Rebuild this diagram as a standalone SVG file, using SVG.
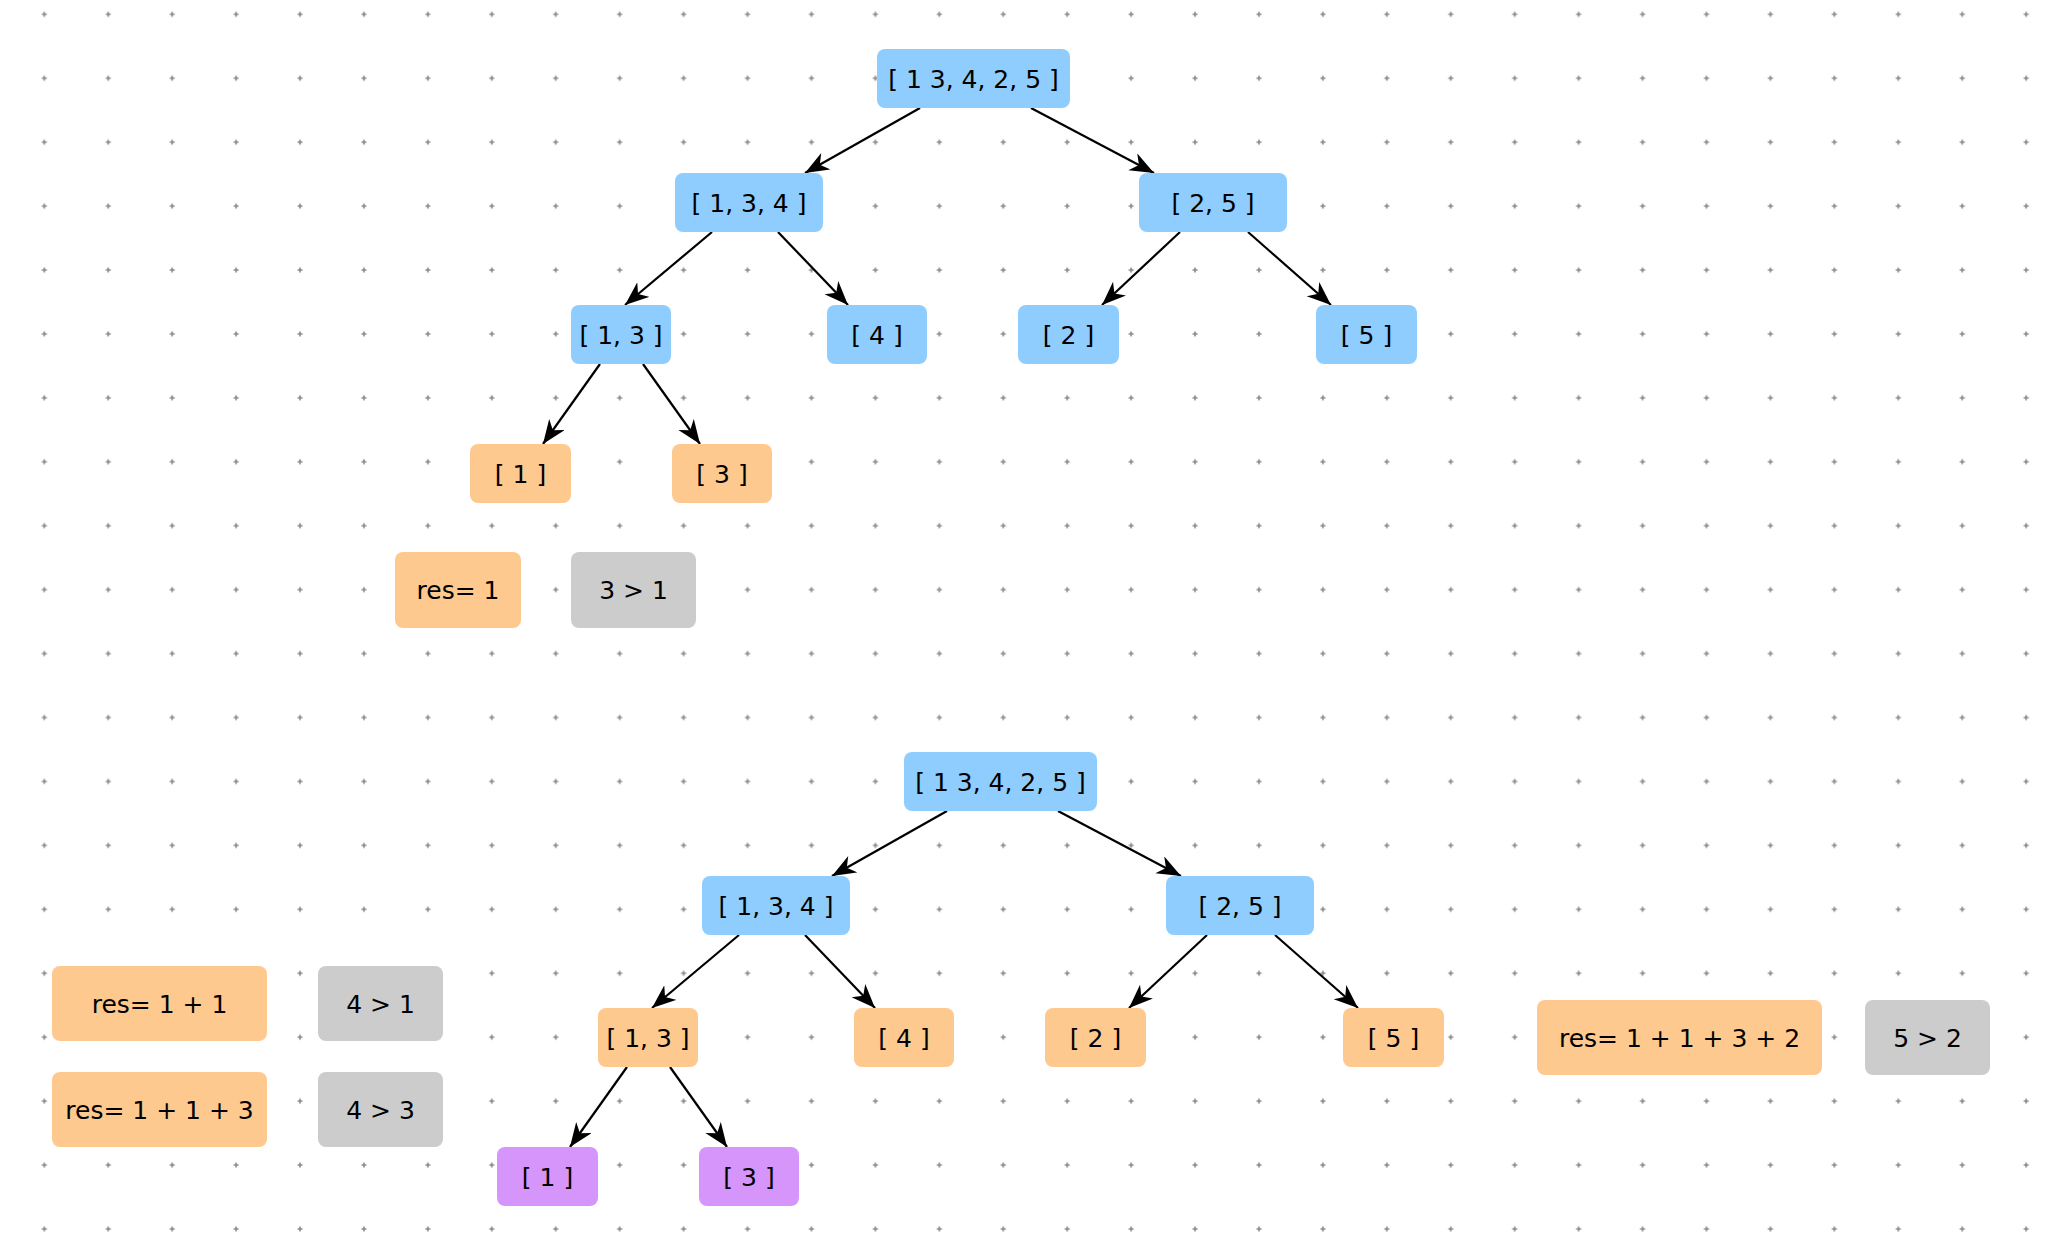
<svg xmlns="http://www.w3.org/2000/svg" width="2066" height="1242" viewBox="0 0 2066 1242">
<defs>
<pattern id="grid" patternUnits="userSpaceOnUse" x="12.335" y="-17.665" width="63.93" height="63.93">
<path d="M29.5,31.965 H34.5 M31.965,29.5 V34.5" stroke="#8a8a8a" stroke-width="1.6" fill="none"/>
</pattern>
<marker id="arr" markerUnits="userSpaceOnUse" markerWidth="26" markerHeight="20" refX="24" refY="9.5" orient="auto" viewBox="0 0 26 20">
<path d="M0,0 L24,9.5 L0,19 L7,9.5 Z" fill="#000"/>
</marker>
<style>
.n rect{rx:8px;ry:8px}
.blue rect{fill:#8ecdfd}
.orange rect{fill:#fdc98f}
.gray rect{fill:#cccccc}
.purple rect{fill:#d595fb}
.n text{font-family:"DejaVu Sans","Liberation Sans",sans-serif;font-size:25px;fill:#000;text-anchor:middle}
.e line{stroke:#000;stroke-width:2.2;marker-end:url(#arr)}
</style>
</defs>
<rect width="2066" height="1242" fill="#fff"/>
<rect width="2066" height="1242" fill="url(#grid)"/>

<g id="connectors" class="e">
<line x1="920" y1="108" x2="805" y2="173"/>
<line x1="1031" y1="108" x2="1154" y2="173"/>
<line x1="712" y1="232" x2="625" y2="305"/>
<line x1="778" y1="232" x2="848" y2="305"/>
<line x1="1180" y1="232" x2="1102" y2="305"/>
<line x1="1248" y1="232" x2="1331" y2="305"/>
<line x1="600" y1="364" x2="543" y2="444"/>
<line x1="643" y1="364" x2="700" y2="444"/>
<line x1="947" y1="811" x2="832" y2="876"/>
<line x1="1058" y1="811" x2="1181" y2="876"/>
<line x1="739" y1="935" x2="652" y2="1008"/>
<line x1="805" y1="935" x2="875" y2="1008"/>
<line x1="1207" y1="935" x2="1129" y2="1008"/>
<line x1="1275" y1="935" x2="1358" y2="1008"/>
<line x1="627" y1="1067" x2="570" y2="1147"/>
<line x1="670" y1="1067" x2="727" y2="1147"/>
</g>

<g id="t_root" class="n blue"><rect x="877" y="49" width="193" height="59"/><text x="973.5" y="87.5">[ 1 3, 4, 2, 5 ]</text></g>
<g id="t_134" class="n blue"><rect x="675" y="173" width="148" height="59"/><text x="749" y="211.5">[ 1, 3, 4 ]</text></g>
<g id="t_25" class="n blue"><rect x="1139" y="173" width="148" height="59"/><text x="1213" y="211.5">[ 2, 5 ]</text></g>
<g id="t_13" class="n blue"><rect x="571" y="305" width="100" height="59"/><text x="621" y="343.5">[ 1, 3 ]</text></g>
<g id="t_4" class="n blue"><rect x="827" y="305" width="100" height="59"/><text x="877" y="343.5">[ 4 ]</text></g>
<g id="t_2" class="n blue"><rect x="1018" y="305" width="101" height="59"/><text x="1068.5" y="343.5">[ 2 ]</text></g>
<g id="t_5" class="n blue"><rect x="1316" y="305" width="101" height="59"/><text x="1366.5" y="343.5">[ 5 ]</text></g>
<g id="t_1" class="n orange"><rect x="470" y="444" width="101" height="59"/><text x="520.5" y="482.5">[ 1 ]</text></g>
<g id="t_3" class="n orange"><rect x="672" y="444" width="100" height="59"/><text x="722" y="482.5">[ 3 ]</text></g>
<g id="t_res" class="n orange"><rect x="395" y="552" width="126" height="76"/><text x="458" y="599">res= 1</text></g>
<g id="t_cmp" class="n gray"><rect x="571" y="552" width="125" height="76"/><text x="633.5" y="599">3 &gt; 1</text></g>

<g id="b_root" class="n blue"><rect x="904" y="752" width="193" height="59"/><text x="1000.5" y="790.5">[ 1 3, 4, 2, 5 ]</text></g>
<g id="b_134" class="n blue"><rect x="702" y="876" width="148" height="59"/><text x="776" y="914.5">[ 1, 3, 4 ]</text></g>
<g id="b_25" class="n blue"><rect x="1166" y="876" width="148" height="59"/><text x="1240" y="914.5">[ 2, 5 ]</text></g>
<g id="b_13" class="n orange"><rect x="598" y="1008" width="100" height="59"/><text x="648" y="1046.5">[ 1, 3 ]</text></g>
<g id="b_4" class="n orange"><rect x="854" y="1008" width="100" height="59"/><text x="904" y="1046.5">[ 4 ]</text></g>
<g id="b_2" class="n orange"><rect x="1045" y="1008" width="101" height="59"/><text x="1095.5" y="1046.5">[ 2 ]</text></g>
<g id="b_5" class="n orange"><rect x="1343" y="1008" width="101" height="59"/><text x="1393.5" y="1046.5">[ 5 ]</text></g>
<g id="b_1" class="n purple"><rect x="497" y="1147" width="101" height="59"/><text x="547.5" y="1185.5">[ 1 ]</text></g>
<g id="b_3" class="n purple"><rect x="699" y="1147" width="100" height="59"/><text x="749" y="1185.5">[ 3 ]</text></g>
<g id="b_res1" class="n orange"><rect x="52" y="966" width="215" height="75"/><text x="159.5" y="1012.5">res= 1 + 1</text></g>
<g id="b_cmp1" class="n gray"><rect x="318" y="966" width="125" height="75"/><text x="380.5" y="1012.5">4 &gt; 1</text></g>
<g id="b_res2" class="n orange"><rect x="52" y="1072" width="215" height="75"/><text x="159.5" y="1118.5">res= 1 + 1 + 3</text></g>
<g id="b_cmp2" class="n gray"><rect x="318" y="1072" width="125" height="75"/><text x="380.5" y="1118.5">4 &gt; 3</text></g>
<g id="b_res3" class="n orange"><rect x="1537" y="1000" width="285" height="75"/><text x="1679.5" y="1046.5">res= 1 + 1 + 3 + 2</text></g>
<g id="b_cmp3" class="n gray"><rect x="1865" y="1000" width="125" height="75"/><text x="1927.5" y="1046.5">5 &gt; 2</text></g>
</svg>
